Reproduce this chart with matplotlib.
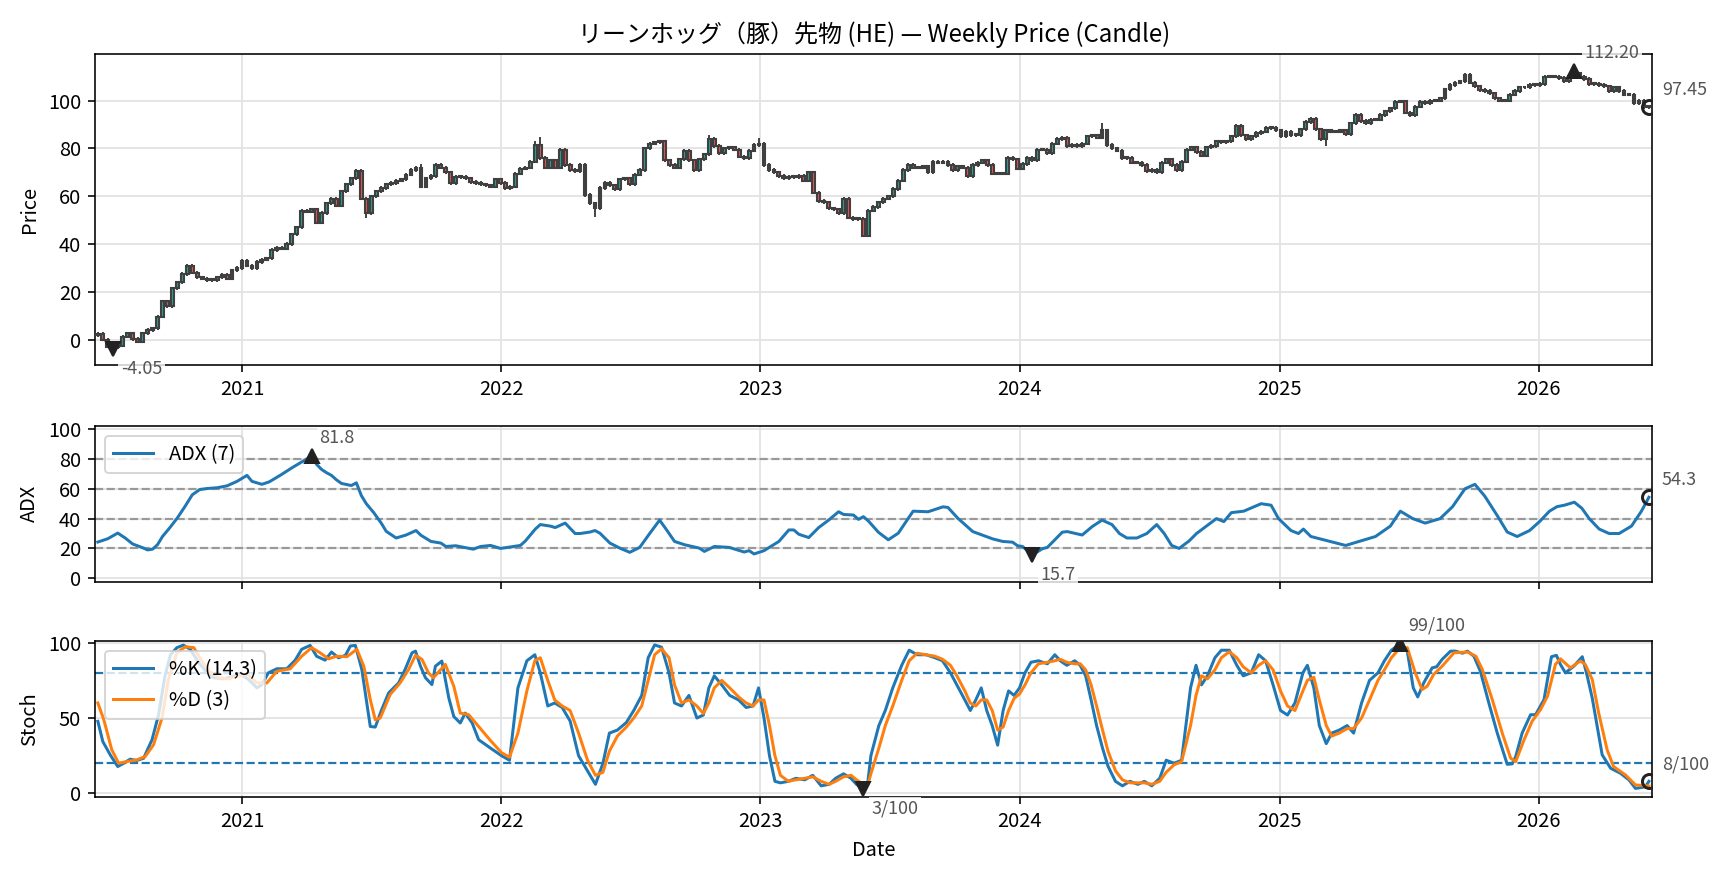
import numpy as np
import pandas as pd
import matplotlib
matplotlib.use("Agg")
import matplotlib.pyplot as plt
import matplotlib.dates as mdates

plt.rcParams['font.family'] = ['Noto Sans CJK JP', 'DejaVu Sans']

# ---------------- data ----------------
start_date = "2020-06-12"
first_open = 2.0
closes = [
    2.5, 0.0, -3.0, -3.2, -2.5, 1.3, 2.6, 0.3, -0.8, 2.6,
    4.0, 4.7, 9.6, 16.0, 14.0, 21.5, 24.0, 27.5, 31.0, 28.0,
    26.0, 25.5, 25.0, 25.0, 26.0, 27.0, 25.5, 29.0, 30.0, 33.0,
    31.0, 30.0, 32.5, 33.5, 34.0, 37.5, 38.5, 38.0, 40.0, 44.0,
    47.0, 54.0, 53.5, 54.5, 49.0, 53.0, 57.0, 59.0, 56.0, 62.0,
    65.0, 67.5, 70.5, 59.0, 53.0, 60.0, 62.0, 63.5, 65.0, 65.5,
    66.5, 67.0, 69.0,
    71.0, 72.0, 64.0, 67.5, 68.5, 73.0, 72.0, 70.0, 65.5, 68.0,
    68.0, 67.5, 66.0, 65.5, 65.0, 64.5, 64.0, 67.0, 65.5, 63.5,
    64.0, 69.5, 71.5, 72.0, 74.5, 81.5, 76.0, 72.0, 75.0, 72.0,
    79.5, 73.0, 71.0, 70.5, 73.0, 60.5, 57.0, 55.0, 63.5, 65.5,
    64.5, 63.0, 67.0, 67.5, 65.0, 69.0, 71.0, 80.0, 82.0, 82.5,
    83.0, 75.0, 73.0, 72.0, 75.5, 79.0, 75.0, 71.0, 75.5, 77.5,
    84.0, 81.0, 78.0,
    80.0, 80.5, 79.5, 76.5, 76.0, 79.0, 81.5, 82.0, 73.0, 71.0,
    70.0, 68.5, 67.5, 68.0, 68.0, 68.5, 66.5, 70.0, 61.5, 58.0,
    57.5, 55.0, 54.5, 53.0, 59.0, 51.0, 50.5, 50.5, 43.5, 54.0,
    55.5, 57.5, 59.0, 60.0, 63.0, 66.5, 71.0, 73.0, 72.0, 72.0,
    72.5, 70.0, 74.5, 74.0, 74.5, 73.0, 71.0, 72.5, 72.0, 68.5,
    73.0, 74.0, 75.0, 73.0, 69.5, 69.5, 69.5, 76.0, 75.5, 71.5,
    73.5, 76.0,
    75.0, 79.5, 79.5, 78.0, 82.0, 84.0, 84.5, 81.0, 81.5, 81.0,
    82.0, 85.0, 85.5, 84.5, 87.5, 81.5, 80.0, 79.0, 76.0, 76.0,
    74.0, 74.0, 73.0, 70.5, 71.0, 70.0, 74.0, 75.5, 73.0, 71.0,
    74.5, 79.5, 80.5, 78.5, 77.0, 80.5, 81.0, 83.0, 82.5, 83.0,
    85.0, 89.5, 85.5, 84.0, 85.0, 86.5, 87.0, 88.5, 88.5, 87.5,
    85.0, 87.0, 85.5, 85.5, 88.0, 91.0, 92.5, 88.0, 84.0, 87.5,
    87.0, 87.0, 87.5,
    86.0, 90.5, 94.0, 91.5, 90.5, 92.0, 92.0, 94.0, 95.5, 96.8,
    99.5, 99.7, 95.0, 94.0, 97.5, 99.5, 99.0, 100.0, 100.0, 101.0,
    104.7, 106.5, 107.5, 108.0, 110.8, 107.5, 106.0, 104.5, 104.0, 103.0,
    101.0, 100.0, 100.0, 102.5, 104.0, 105.5, 105.5, 106.5, 106.5, 107.0,
    110.0, 110.0, 110.0, 109.5, 108.0, 110.5, 111.6, 110.0, 109.0, 107.0,
    107.0, 106.5, 106.0, 104.0, 105.5, 104.0, 102.5, 102.5, 99.0, 100.0,
    97.3, 97.45,
]
wick = 0.7
high_idx = [53, 65, 88, 89, 123, 133, 202, 297, 298]
high_val = [71.5, 73.5, 83.0, 84.6, 85.5, 84.3, 90.5, 112.2, 111.9]
low_idx = [3, 54, 100, 154, 247]
low_val = [-4.05, 50.8, 51.5, 43.0, 81.0]

adx_w = [0, 2, 4, 5.5, 7, 9, 10, 11, 12, 13, 14.5, 16, 17.5, 19, 20.5, 22, 24, 26, 28, 30,
         31, 33, 34.5, 37, 39, 41, 43, 44, 45, 46, 47, 48, 49, 51, 52, 53, 54, 55.5, 57, 58,
         60, 62, 64, 65, 67, 69, 70, 72, 74, 75.5, 77, 79, 81, 83, 85, 86, 88, 89, 91, 92,
         94, 96, 97, 99, 100, 101, 103, 105, 107, 109, 111, 113, 114.5, 116, 118, 121, 122, 124, 127, 130,
         131, 132, 134, 137, 139, 140, 141, 143, 145, 147, 149, 150, 152, 153, 154, 155, 157, 159, 161, 164,
         167, 170, 171, 173, 176, 180, 182, 184, 185, 186, 188, 190, 191, 194, 195, 198, 200, 202, 204, 205.5,
         207, 209, 211, 213, 214.5, 216, 217.5, 219.5, 221, 223, 225, 226.5, 228, 230.5, 234, 236, 237.5, 240, 241.5, 242.5,
         244, 247.5, 251, 254, 257, 260, 262, 264.5, 267, 270, 272.5, 275, 277, 279, 281.5, 283.5, 285.5, 288, 290, 292,
         293.5, 295, 297, 298.5, 300, 302, 304, 306, 308.5, 310.5, 312]
adx_v = [24.3, 26.5, 30.3, 27.0, 23.0, 20.5, 19.0, 19.5, 22.5, 28.0, 34.0, 40.5, 48.0, 56.0, 59.5, 60.2, 60.7, 62.0, 65.0, 69.0,
         65.0, 63.0, 64.7, 69.7, 74.0, 78.0, 81.8, 76.4, 73.0, 70.8, 69.0, 66.0, 63.6, 62.2, 64.0, 55.5, 50.0, 44.0, 37.0, 31.5,
         27.0, 29.0, 32.0, 28.8, 24.7, 23.6, 21.3, 21.8, 20.5, 19.5, 21.3, 22.0, 20.0, 21.0, 22.0, 25.0, 33.0, 36.0, 35.0, 34.0,
         37.0, 30.0, 30.0, 31.0, 32.0, 30.2, 23.6, 20.2, 17.4, 20.7, 30.0, 39.0, 32.0, 24.7, 22.5, 20.2, 18.0, 21.3, 20.7, 17.6,
         18.5, 16.3, 18.5, 24.7, 32.4, 32.4, 29.5, 27.3, 34.0, 39.0, 44.6, 42.8, 42.4, 39.5, 41.3, 38.4, 30.9, 25.8, 30.2, 45.0,
         44.6, 47.9, 47.5, 40.2, 31.3, 26.4, 24.7, 24.2, 21.8, 21.3, 15.7, 19.8, 20.7, 30.9, 31.3, 29.0, 34.6, 39.0, 36.0, 30.0,
         27.0, 27.0, 30.0, 36.0, 30.0, 22.0, 20.0, 25.0, 30.0, 35.0, 40.0, 38.0, 44.0, 45.0, 50.0, 49.0, 40.0, 32.0, 30.0, 33.0,
         28.0, 25.0, 22.0, 25.0, 28.0, 35.0, 45.0, 40.0, 37.0, 40.0, 48.0, 60.0, 63.0, 55.0, 42.0, 31.0, 28.0, 32.0, 38.0, 45.0,
         48.0, 49.0, 51.0, 47.0, 40.0, 33.0, 30.0, 30.0, 35.0, 45.0, 54.3]

k_w = [0, 1.0, 2.5, 4.0, 5.2, 6.5, 7.8, 9.2, 10.9, 12.2, 13.5, 14.6, 15.9, 17.2, 18.6, 20.3, 21.9, 23.3, 25.3, 27.3,
       28.6, 30.3, 32.0, 33.0, 34.3, 36.0, 38.0, 39.7, 41.0, 42.7, 44.0, 45.7, 47.0, 48.4, 49.8, 50.8, 51.8, 53.1, 54.8, 55.8,
       57.1, 58.5, 60.5, 61.8, 63.2, 63.9, 64.9, 65.9, 67.2, 67.9, 69.2, 70.6, 71.6, 72.9, 73.9, 75.3, 76.6, 79.0, 81.2, 82.8,
       84.5, 86.3, 87.9, 89.0, 90.5, 91.9, 93.4, 95.0, 96.7, 98.5, 100.1, 101.6, 102.9, 104.5, 106.3, 107.8, 109.4, 110.7, 112.0, 113.4,
       114.9, 116.0, 117.4, 118.9, 120.5, 121.8, 122.9, 124.0, 125.5, 127.1, 128.9, 130.4, 131.8, 132.9, 134.0, 135.1, 136.2, 137.3, 138.9, 140.4,
       142.2, 143.8, 145.5, 147.1, 148.4, 150.0, 151.5, 152.6, 154.0, 154.9, 155.5, 157.1, 158.4, 159.9, 161.7, 163.2, 164.8, 166.6, 168.4, 169.9,
       171.5, 172.8, 174.4, 175.5, 176.6, 177.7, 178.8, 179.9, 181.0, 182.1, 183.2, 184.3, 185.4, 186.5, 187.7, 189.2, 191.0, 192.5, 193.6, 194.9,
       196.5, 197.6, 198.7, 199.8, 200.9, 202.1, 203.2, 204.7, 206.1, 207.6, 209.2, 210.5, 212.0, 213.6, 214.9, 216.5, 218.0, 219.8, 220.9, 222.0,
       223.2, 224.7, 226.0, 227.6, 229.1, 230.4, 232.0, 233.5, 234.9, 236.4, 237.9, 239.3, 240.8, 242.4, 243.3, 244.6, 245.7, 247.1, 248.2, 249.7,
       251.3, 252.6, 254.2, 255.8, 257.5, 258.8, 260.2, 262.0, 263.4, 264.6, 265.5, 266.7, 268.4, 269.3, 270.4, 272.1, 273.1, 274.5, 275.5, 276.8,
       278.1, 279.8, 281.5, 283.5, 284.5, 285.2, 286.5, 288.2, 289.2, 290.9, 292.4, 293.4, 294.2, 295.2, 296.9, 298.6, 299.6, 300.6, 301.6, 302.6,
       304.3, 306.3, 308.0, 309.3, 310.3, 311.3, 312.0]
k_v = [47.8, 34.4, 25.5, 17.8, 20.0, 22.7, 21.8, 23.3, 35.6, 52.0, 77.8, 92.0, 96.7, 98.4, 95.6, 86.7, 80.4, 76.7, 76.0, 77.8,
       79.3, 75.6, 70.0, 72.2, 80.0, 82.7, 82.7, 88.4, 95.6, 98.2, 91.0, 88.4, 93.8, 90.0, 91.6, 97.8, 98.2, 82.2, 44.4, 44.0,
       55.6, 66.7, 73.3, 82.2, 93.3, 94.4, 84.4, 76.7, 72.2, 84.4, 87.8, 63.3, 51.0, 46.7, 53.3, 46.7, 35.6, 30.0, 25.0, 22.0,
       70.0, 88.0, 92.0, 80.0, 58.0, 60.0, 57.0, 48.0, 25.0, 15.0, 6.0, 20.0, 40.0, 42.0, 47.0, 55.0, 65.0, 90.0, 98.5, 97.0,
       80.0, 60.0, 58.0, 65.0, 50.0, 52.0, 70.0, 78.0, 72.0, 65.0, 62.0, 57.0, 58.0, 70.0, 50.0, 25.0, 8.0, 7.0, 8.0, 10.0,
       9.0, 12.0, 5.0, 6.0, 10.0, 13.0, 10.0, 6.0, 3.0, 8.0, 25.0, 45.0, 55.0, 70.0, 85.0, 95.0, 92.0, 92.0, 90.0, 88.0,
       80.0, 72.0, 62.0, 55.0, 62.0, 70.0, 55.0, 45.0, 32.0, 55.0, 68.0, 65.0, 70.0, 80.0, 87.0, 88.0, 86.0, 92.0, 88.0, 85.0,
       88.0, 85.0, 78.0, 62.0, 45.0, 30.0, 18.0, 8.0, 5.0, 8.0, 6.0, 8.0, 5.0, 10.0, 22.0, 20.0, 22.0, 70.0, 85.0, 72.0,
       78.0, 90.0, 95.0, 95.0, 85.0, 78.0, 80.0, 92.0, 88.0, 72.0, 55.0, 52.0, 60.0, 80.0, 85.0, 70.0, 45.0, 33.0, 40.0, 42.0,
       45.0, 40.0, 60.0, 75.0, 80.0, 88.0, 95.0, 99.3, 94.4, 70.0, 64.0, 73.3, 83.3, 84.0, 88.9, 94.4, 94.4, 93.0, 94.4, 91.0,
       81.0, 60.0, 40.0, 19.3, 19.6, 24.4, 40.0, 52.2, 52.2, 62.2, 90.7, 91.6, 85.6, 80.0, 84.4, 90.7, 77.8, 63.3, 44.4, 25.6,
       16.7, 13.3, 8.9, 3.3, 3.8, 4.4, 8.0]

d_w = [0, 1.2, 2.8, 4.2, 5.8, 7.8, 9.5, 11.2, 12.9, 14.2, 15.9, 17.6, 19.3, 20.9, 22.6, 24.3, 26.3, 28.0, 30.1, 32.0,
       34.0, 36.0, 38.7, 41.0, 43.0, 44.7, 46.4, 48.0, 50.1, 52.1, 53.5, 54.8, 55.8, 56.8, 58.8, 60.8, 62.5, 63.9, 65.2, 66.5,
       67.5, 69.9, 71.6, 72.9, 74.6, 76.6, 79.0, 81.2, 82.8, 84.5, 86.3, 87.9, 89.0, 90.5, 91.9, 93.4, 95.0, 96.7, 98.5, 100.1,
       101.6, 102.9, 104.5, 106.3, 107.8, 109.4, 110.7, 112.0, 113.4, 114.9, 116.0, 117.4, 118.9, 120.5, 121.8, 122.9, 124.0, 125.5, 127.1, 128.9,
       130.4, 131.8, 132.9, 134.0, 135.1, 136.2, 137.3, 138.9, 140.4, 142.2, 143.8, 145.5, 147.1, 148.4, 150.0, 151.5, 152.6, 154.0, 154.9, 155.5,
       157.1, 158.4, 159.9, 161.7, 163.2, 164.8, 166.6, 168.4, 169.9, 171.5, 172.8, 174.4, 175.5, 176.6, 177.7, 178.8, 179.9, 181.0, 182.1, 183.2,
       184.3, 185.4, 186.5, 187.7, 189.2, 191.0, 192.5, 193.6, 194.9, 196.5, 197.6, 198.7, 199.8, 200.9, 202.1, 203.2, 204.7, 206.1, 207.6, 209.2,
       210.5, 212.0, 213.6, 214.9, 216.5, 218.0, 219.8, 220.9, 222.0, 223.2, 224.7, 226.0, 227.6, 229.1, 230.4, 232.0, 233.5, 234.9, 236.4, 237.9,
       239.3, 240.8, 242.4, 243.3, 244.6, 245.7, 247.1, 248.2, 249.7, 251.3, 252.6, 254.2, 255.8, 257.5, 258.8, 260.2, 261.5, 263.4, 265.0, 266.4,
       267.4, 268.7, 270.4, 272.8, 275.5, 277.2, 278.5, 280.5, 282.5, 284.2, 285.2, 286.9, 288.5, 290.2, 291.6, 293.2, 294.2, 296.2, 298.2, 299.2,
       300.6, 301.9, 303.6, 304.9, 307.3, 309.3, 312.0]
d_v = [60.0, 48.9, 28.9, 20.0, 21.1, 22.2, 24.4, 32.2, 50.0, 75.6, 93.3, 97.3, 96.7, 87.8, 80.4, 76.7, 76.0, 77.8, 78.9, 73.3,
       73.3, 81.0, 82.7, 91.0, 96.7, 93.3, 89.3, 91.0, 90.7, 95.6, 84.4, 62.2, 48.9, 50.0, 65.6, 73.3, 82.2, 91.6, 88.9, 80.0,
       76.7, 85.6, 71.1, 53.3, 52.2, 44.4, 35.0, 27.0, 24.0, 40.0, 68.0, 88.0, 90.0, 75.0, 62.0, 58.0, 55.0, 40.0, 22.0, 12.0,
       14.0, 28.0, 38.0, 44.0, 50.0, 58.0, 75.0, 92.0, 96.0, 90.0, 72.0, 60.0, 62.0, 58.0, 53.0, 60.0, 70.0, 75.0, 70.0, 64.0,
       60.0, 58.0, 62.0, 62.0, 45.0, 25.0, 12.0, 8.0, 9.0, 10.0, 11.0, 8.0, 6.0, 8.0, 11.0, 12.0, 9.0, 6.0, 6.0, 13.0,
       30.0, 45.0, 58.0, 75.0, 88.0, 93.0, 92.0, 91.0, 89.0, 85.0, 78.0, 68.0, 60.0, 58.0, 62.0, 62.0, 55.0, 42.0, 44.0, 55.0,
       63.0, 66.0, 72.0, 80.0, 86.0, 87.0, 88.0, 89.0, 87.0, 86.0, 86.0, 82.0, 72.0, 58.0, 42.0, 28.0, 15.0, 9.0, 7.0, 7.0,
       7.0, 6.0, 8.0, 14.0, 19.0, 21.0, 45.0, 65.0, 78.0, 76.0, 82.0, 90.0, 94.0, 90.0, 84.0, 80.0, 85.0, 88.0, 82.0, 68.0,
       58.0, 55.0, 68.0, 75.0, 77.0, 62.0, 45.0, 38.0, 40.0, 43.0, 43.0, 50.0, 62.0, 75.0, 82.0, 90.0, 95.0, 96.7, 80.0, 68.9,
       71.1, 78.9, 84.4, 93.3, 93.8, 91.0, 82.2, 62.2, 40.0, 23.3, 21.1, 35.6, 47.8, 55.6, 64.4, 85.6, 89.3, 83.3, 87.8, 85.6,
       75.6, 53.3, 28.9, 17.8, 12.2, 5.6, 4.9]

# ---------------- derived OHLC ----------------
dates = pd.date_range(start_date, periods=len(closes), freq="7D")
c = np.array(closes, dtype=float)
o = np.concatenate([[first_open], c[:-1]])
h = np.maximum(o, c) + wick
l = np.minimum(o, c) - wick
h[high_idx] = high_val
l[low_idx] = low_val


def wk(w):
    return dates[0] + pd.to_timedelta(np.asarray(w, dtype=float) * 7, unit="D")


# ---------------- figure ----------------
fig = plt.figure(figsize=(12, 878 / 144), dpi=144)
L, W = 0.05498, 0.9013
ax1 = fig.add_axes([L, 0.5843, W, 0.3542])
ax2 = fig.add_axes([L, 0.3375, W, 0.1776], sharex=ax1)
ax3 = fig.add_axes([L, 0.0926, W, 0.1773], sharex=ax1)

grid_kw = dict(color="#e3e3e3", lw=0.9)
for ax in (ax1, ax2, ax3):
    ax.grid(True, **grid_kw)
    ax.set_axisbelow(True)

ann_kw = dict(textcoords="offset points", fontsize=9, color="#555555", va="center", ha="left",
              annotation_clip=False)
box = dict(boxstyle="square,pad=0.15", fc="white", ec="none", alpha=0.8)

# candles
up = c >= o
face = np.where(up, "#26a69a", "#ef5350")
body_h = np.maximum(np.abs(c - o), 0.35)
ax1.vlines(dates, l, h, color="#333333", lw=0.9, zorder=2)
ax1.bar(dates, body_h, bottom=np.minimum(o, c), width=4.0, color=face,
        edgecolor="#404040", linewidth=1.05, zorder=3)

imax = int(np.argmax(h))
imin = int(np.argmin(l))
ax1.plot(dates[imax], h[imax], marker="^", color="#222222", ms=7, zorder=5)
ax1.annotate(f"{h[imax]:.2f}", (dates[imax], h[imax]), xytext=(5, 9), bbox=box, **ann_kw)
ax1.plot(dates[imin], l[imin], marker="v", color="#222222", ms=7, zorder=5)
ax1.annotate(f"{l[imin]:.2f}", (dates[imin], l[imin]), xytext=(4, -10), bbox=box, **ann_kw)
ax1.plot(dates[-1], c[-1], marker="o", mfc="none", mec="#222222", mew=1.5, ms=7, zorder=5)
ax1.annotate(f"{c[-1]:.2f}", (dates[-1], c[-1]), xytext=(6.5, 8.5), **ann_kw)

ax1.set_ylim(-10.6, 119.5)
ax1.set_yticks([0, 20, 40, 60, 80, 100])
ax1.set_ylabel("Price")
ax1.set_title("リーンホッグ（豚）先物 (HE) — Weekly Price (Candle)", fontsize=12)

# ADX
adx_x = wk(adx_w)
adx_a = np.array(adx_v)
for lev in (20, 40, 60, 80):
    ax2.axhline(lev, color="#999999", ls="--", lw=1.1, zorder=1)
ax2.plot(adx_x, adx_a, color="C0", lw=1.5, label="ADX (7)", zorder=3)
j = int(np.argmax(adx_a)); m = int(np.argmin(adx_a))
ax2.plot(adx_x[j], adx_a[j], marker="^", color="#222222", ms=7, zorder=5)
ax2.annotate(f"{adx_a[j]:.1f}", (adx_x[j], adx_a[j]), xytext=(4, 9), bbox=box, **ann_kw)
ax2.plot(adx_x[m], adx_a[m], marker="v", color="#222222", ms=7, zorder=5)
ax2.annotate(f"{adx_a[m]:.1f}", (adx_x[m], adx_a[m]), xytext=(4, -10), bbox=box, **ann_kw)
ax2.plot(adx_x[-1], adx_a[-1], marker="o", mfc="none", mec="#222222", mew=1.5, ms=7, zorder=5)
ax2.annotate(f"{adx_a[-1]:.1f}", (adx_x[-1], adx_a[-1]), xytext=(6.5, 8.5), **ann_kw)
ax2.set_ylim(-2.3, 102.3)
ax2.set_yticks([0, 20, 40, 60, 80, 100])
ax2.set_ylabel("ADX")
ax2.legend(loc="upper left")
ax2.tick_params(labelbottom=False)

# Stochastic
kx = wk(k_w); ka = np.array(k_v)
dx = wk(d_w); da = np.array(d_v)
for lev in (20, 80):
    ax3.axhline(lev, color="C0", ls="--", lw=1.1, zorder=1)
ax3.plot(kx, ka, color="C0", lw=1.5, label="%K (14,3)", zorder=3)
ax3.plot(dx, da, color="C1", lw=1.5, label="%D (3)", zorder=3)
j = int(np.argmax(ka)); m = int(np.argmin(ka))
ax3.plot(kx[j], ka[j], marker="^", color="#222222", ms=7, zorder=5)
ax3.annotate(f"{ka[j]:.0f}/100", (kx[j], ka[j]), xytext=(4, 9), bbox=box, **ann_kw)
ax3.plot(kx[m], ka[m], marker="v", color="#222222", ms=7, zorder=5)
ax3.annotate(f"{ka[m]:.0f}/100", (kx[m], ka[m]), xytext=(4, -10), bbox=box, **ann_kw)
ax3.plot(kx[-1], ka[-1], marker="o", mfc="none", mec="#222222", mew=1.5, ms=7, zorder=5)
ax3.annotate(f"{ka[-1]:.0f}/100", (kx[-1], ka[-1]), xytext=(6.5, 8.5), **ann_kw)
ax3.set_ylim(-2.2, 101.1)
ax3.set_yticks([0, 50, 100])
ax3.set_ylabel("Stoch")
ax3.set_xlabel("Date")
ax3.legend(loc="upper left")

ax1.xaxis.set_major_locator(mdates.YearLocator())
ax1.xaxis.set_major_formatter(mdates.DateFormatter("%Y"))
ax1.set_xlim(dates[0] - pd.Timedelta(days=4), dates[-1] + pd.Timedelta(days=5))
ax1.tick_params(labelbottom=True)

fig.savefig("out.png", dpi=144)
